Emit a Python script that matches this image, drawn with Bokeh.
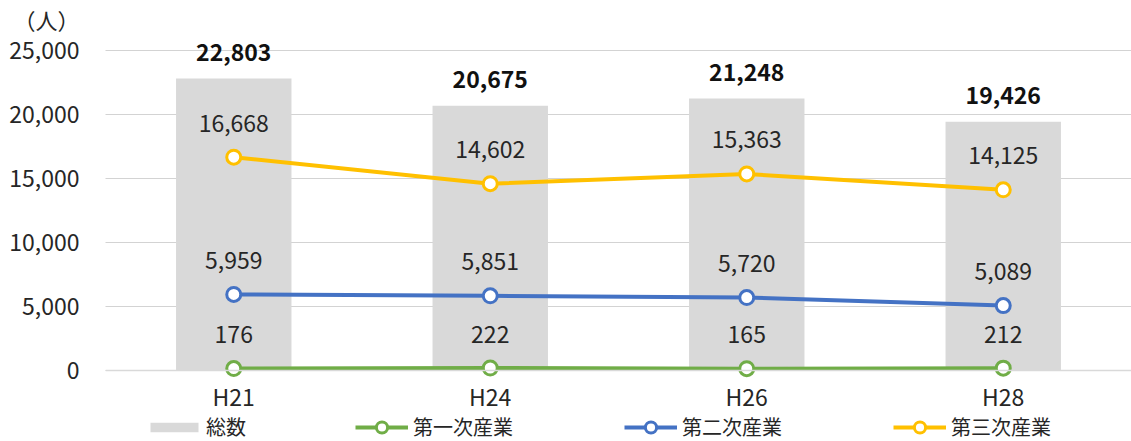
from bokeh.plotting import figure
from bokeh.models import (Range1d, FactorRange, FixedTicker, NumeralTickFormatter,
                          Legend, LegendItem, ColumnDataSource)
from bokeh.core.properties import value
from bokeh.embed import file_html
from bokeh.resources import INLINE

years = ["H21", "H24", "H26", "H28"]
total = [22803, 20675, 21248, 19426]
primary = [176, 222, 165, 212]
secondary = [5959, 5851, 5720, 5089]
tertiary = [16668, 14602, 15363, 14125]
series_names = ["総数", "第一次産業", "第二次産業", "第三次産業"]
y_ticks = [0, 5000, 10000, 15000, 20000, 25000]
unit_label = "（人）"

FONT = "Noto Sans CJK JP"
TXT = "#262626"
NUM_SIZE = "23px"

# layout: value axis 0..25000 spans page y 370..48 (322 px); frame spans y 32..441
W, H, LEFT = 1131, 441, 105
TOP = 32
AXIS_TOP, AXIS_BOTTOM = 48, 370
AXIS_PX = AXIS_BOTTOM - AXIS_TOP
y_top = y_ticks[-1]
per_px = y_top / AXIS_PX
y_max = y_top + (AXIS_TOP - TOP) * per_px
y_min = -(H - AXIS_BOTTOM) * per_px

def fmt(v):
    return f"{v:,}"

src = ColumnDataSource(dict(
    x=years, total=total, primary=primary, secondary=secondary, tertiary=tertiary,
    total_t=[fmt(v) for v in total], primary_t=[fmt(v) for v in primary],
    secondary_t=[fmt(v) for v in secondary], tertiary_t=[fmt(v) for v in tertiary],
))

p = figure(width=W, height=H, output_backend="svg", toolbar_location=None,
           x_range=FactorRange(*years, range_padding=0), y_range=Range1d(y_min, y_max),
           min_border_left=LEFT, min_border_right=0, min_border_top=TOP, min_border_bottom=0)
p.outline_line_color = None
p.background_fill_color = "white"
p.border_fill_color = "white"

# unit label as title
p.title.text = unit_label
p.title.align = "left"
p.title.offset = -92
p.title.standoff = 0
p.title.text_font = FONT
p.title.text_font_size = "22px"
p.title.text_font_style = "normal"
p.title.text_color = TXT

# axes
p.yaxis.ticker = FixedTicker(ticks=y_ticks)
p.yaxis.formatter = NumeralTickFormatter(format="0,0")
p.yaxis.axis_line_color = None
p.yaxis.major_tick_line_color = None
p.yaxis.minor_tick_line_color = None
p.yaxis.major_label_text_font = FONT
p.yaxis.major_label_text_font_size = NUM_SIZE
p.yaxis.major_label_text_color = TXT
p.yaxis.major_label_standoff = 20

p.xaxis.fixed_location = 0
p.xaxis.axis_line_color = "#d9d9d9"
p.xaxis.axis_line_width = 1.5
p.xaxis.major_tick_line_color = None
p.xaxis.minor_tick_line_color = None
p.xaxis.major_label_text_font = FONT
p.xaxis.major_label_text_font_size = NUM_SIZE
p.xaxis.major_label_text_color = TXT
p.xaxis.major_label_standoff = 2

p.xgrid.grid_line_color = None
p.ygrid.grid_line_color = "#a6a6a6"
p.ygrid.grid_line_dash = "1 1"
p.ygrid.grid_line_width = 1

# bars
bars = p.vbar(x="x", top="total", width=0.45, source=src, fill_color="#d9d9d9", line_color=None)

colors = {"primary": "#70ad47", "secondary": "#4472c4", "tertiary": "#ffc000"}
line_items = []
for key, name in zip(["primary", "secondary", "tertiary"], series_names[1:]):
    c = colors[key]
    ln = p.line(x="x", y=key, source=src, line_color=c, line_width=4)
    sc = p.scatter(x="x", y=key, source=src, size=14, fill_color="white", line_color=c, line_width=3)
    line_items.append(LegendItem(label=name, renderers=[ln, sc]))
    p.text(x="x", y=key, text=key + "_t", source=src, y_offset=-34,
           text_font=value(FONT), text_font_size=NUM_SIZE, text_color=TXT,
           text_align="center", text_baseline="middle")

p.text(x="x", y="total", text="total_t", source=src, y_offset=-26,
       text_font=value(FONT), text_font_size=NUM_SIZE, text_font_style="bold", text_color="#111111",
       text_align="center", text_baseline="middle")

legend_style = dict(orientation="horizontal", border_line_color=None, background_fill_alpha=0,
                    padding=0, margin=0, label_text_font=FONT, label_text_font_size="20px",
                    label_text_color=TXT)
legend_bar = Legend(items=[LegendItem(label=series_names[0], renderers=[bars])],
                    location=(39, 0), glyph_width=60, glyph_height=12, label_standoff=2,
                    **legend_style)
legend_lines = Legend(items=line_items, location=(250, 0), spacing=111,
                      glyph_width=53, glyph_height=28, label_standoff=5, **legend_style)
p.add_layout(legend_bar, "center")
p.add_layout(legend_lines, "center")

open("out.html", "w").write(file_html(p, INLINE))
